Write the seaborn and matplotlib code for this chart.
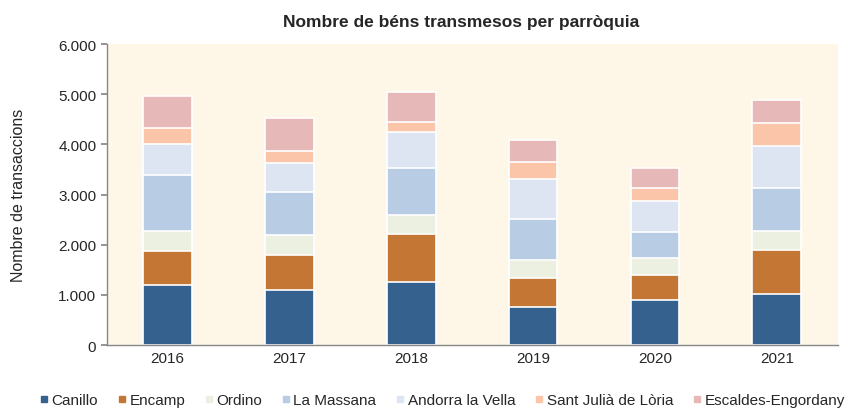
import matplotlib
matplotlib.use('Agg')
import matplotlib.pyplot as plt
from matplotlib.lines import Line2D
from matplotlib.ticker import FuncFormatter, FixedLocator
import seaborn as sns
import pandas as pd
import numpy as np

# values
years = ['2016', '2017', '2018', '2019', '2020', '2021']
parroquies = ['Canillo', 'Encamp', 'Ordino', 'La Massana', 'Andorra la Vella',
              'Sant Julià de Lòria', 'Escaldes-Engordany']
canillo = [1190, 1105, 1260, 765, 890, 1010]
encamp = [685, 685, 950, 570, 505, 885]
ordino = [400, 400, 375, 370, 340, 380]
la_massana = [1120, 855, 940, 800, 525, 855]
andorra = [610, 580, 715, 815, 605, 845]
sant_julia = [325, 240, 215, 320, 270, 445]
escaldes = [645, 670, 590, 440, 400, 470]
colors = ['#35618F', '#C47734', '#EBF0E0', '#B8CCE4', '#DCE5F1', '#FAC5A8', '#E6B8B7']

series = [canillo, encamp, ordino, la_massana, andorra, sant_julia, escaldes]
df = pd.DataFrame(dict(zip(parroquies, series)), index=years)
cum = df.cumsum(axis=1)

sns.set_theme(style='white')
plt.rcParams['font.family'] = ['Liberation Sans', 'DejaVu Sans']

fig = plt.figure(figsize=(8.47, 4.10), dpi=100)
ax = fig.add_axes([0.126, 0.156, 0.863, 0.734])
ax.set_facecolor('#FEF6E6')

# draw cumulative totals from top layer down so lower layers sit on top
for name, color in reversed(list(zip(parroquies, colors))):
    sns.barplot(x=years, y=cum[name].values, color=color, width=0.4,
                edgecolor='white', linewidth=1.2, saturation=1, ax=ax, zorder=2)

ax.set_ylim(0, 6000)
ax.set_yticks(range(0, 6001, 1000))
ax.yaxis.set_major_formatter(FuncFormatter(lambda v, p: f'{int(v):,}'.replace(',', '.')))
ax.set_xlim(-0.5, len(years) - 0.5)
ax.xaxis.set_minor_locator(FixedLocator(np.arange(-0.5, len(years), 1)))
ax.tick_params(axis='x', which='major', length=0, labelsize=11, pad=4)
ax.tick_params(axis='x', which='minor', length=4, color='#888888', direction='out')
ax.tick_params(axis='y', length=4, color='#888888', direction='out', labelsize=11, left=True)

for s in ['top', 'right']:
    ax.spines[s].set_visible(False)
for s in ['left', 'bottom']:
    ax.spines[s].set_color('#888888')
    ax.spines[s].set_linewidth(1)

ax.set_xlabel('')
ax.set_ylabel('Nombre de transaccions', fontsize=11.5, labelpad=23)
fig.text(0.545, 0.945, 'Nombre de béns transmesos per parròquia',
         ha='center', va='center', fontsize=12.5, fontweight='bold')

handles = [Line2D([], [], marker='s', linestyle='', markersize=5,
                  markerfacecolor=c, markeredgecolor=c) for c in colors]
fig.legend(handles, parroquies, loc='center', bbox_to_anchor=(0.522, 0.022),
           ncol=7, frameon=False, fontsize=11, handlelength=0.6,
           handletextpad=0.2, columnspacing=1.25)

fig.savefig('out.png', dpi=100)
